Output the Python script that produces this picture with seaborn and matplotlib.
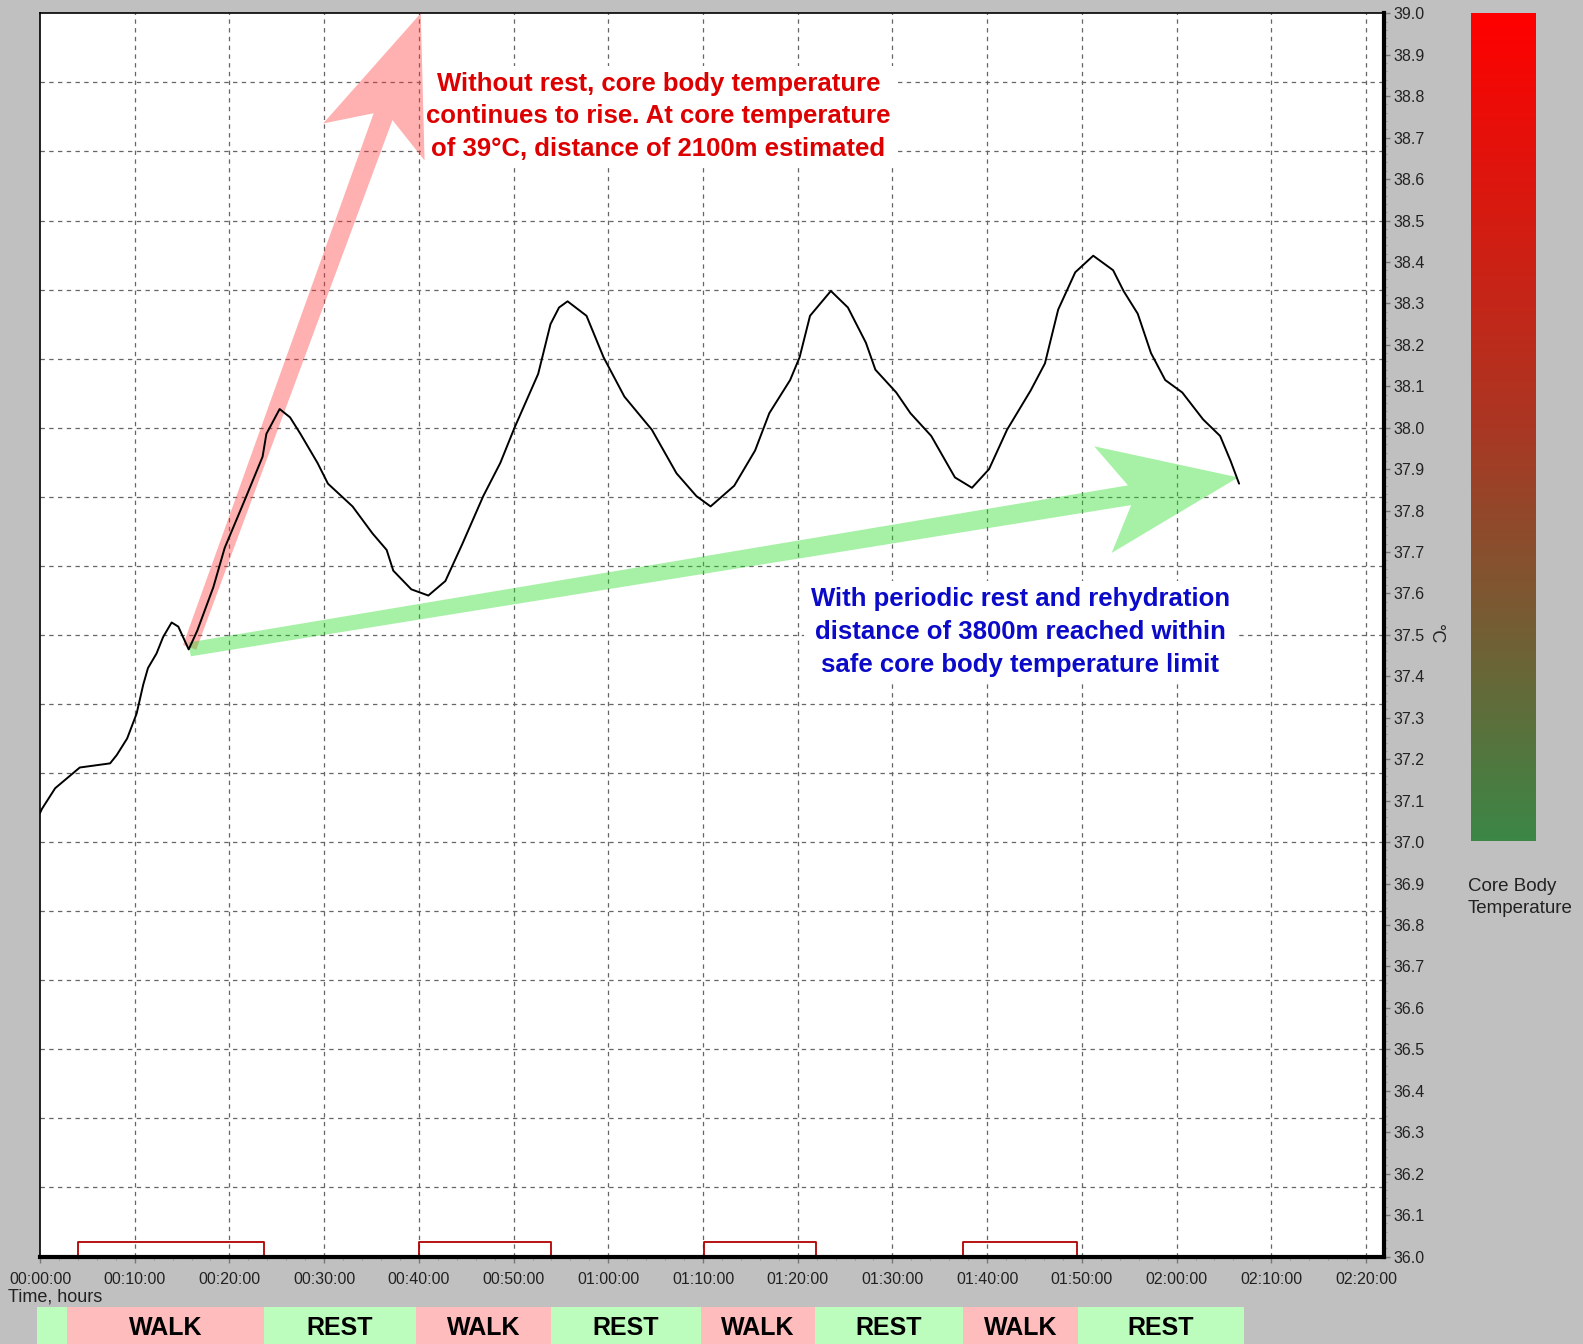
import numpy as np
import pandas as pd
import matplotlib
matplotlib.use("Agg")
import matplotlib.pyplot as plt
import seaborn as sns
from matplotlib import font_manager
from matplotlib.colors import LinearSegmentedColormap
from matplotlib.patches import Polygon
from matplotlib.ticker import MultipleLocator, FuncFormatter

# ---- core body temperature trace (elapsed minutes, degC) ----
minutes = [0.0, 0.2, 1.6, 4.2, 7.4, 8.1, 9.2, 10.2, 10.9, 11.4, 12.3, 13.0, 13.9,
           14.6, 15.7, 16.6, 18.3, 19.5, 21.7, 23.5, 23.9, 25.3, 26.4, 27.5, 29.3,
           30.4, 33.0, 35.1, 36.6, 37.3, 39.2, 41.0, 42.8, 44.6, 46.8, 48.6, 50.1,
           52.6, 53.9, 54.8, 55.7, 57.7, 59.5, 61.7, 64.6, 67.2, 69.3, 70.8, 73.3,
           75.5, 77.0, 79.2, 80.2, 81.3, 82.4, 83.5, 85.3, 87.2, 88.2, 90.4, 91.9,
           94.1, 96.6, 98.4, 100.2, 102.1, 104.6, 106.1, 107.5, 109.3, 111.2, 113.3,
           114.4, 115.9, 117.3, 118.8, 120.6, 122.8, 124.6, 125.7, 126.6]
core_temp = [37.07, 37.08, 37.13, 37.18, 37.19, 37.21, 37.25, 37.31, 37.38, 37.42,
             37.455, 37.495, 37.53, 37.52, 37.465, 37.51, 37.615, 37.71, 37.83,
             37.93, 37.985, 38.045, 38.025, 37.985, 37.915, 37.865, 37.81, 37.745,
             37.705, 37.655, 37.61, 37.595, 37.63, 37.72, 37.835, 37.915, 38.0,
             38.13, 38.25, 38.29, 38.305, 38.27, 38.17, 38.075, 37.995, 37.89,
             37.835, 37.81, 37.86, 37.945, 38.035, 38.115, 38.17, 38.27, 38.30,
             38.33, 38.29, 38.205, 38.14, 38.085, 38.035, 37.98, 37.88, 37.855,
             37.9, 37.995, 38.09, 38.155, 38.285, 38.375, 38.415, 38.38, 38.33,
             38.275, 38.18, 38.115, 38.085, 38.02, 37.98, 37.92, 37.865]
assert len(minutes) == len(core_temp)

# ---- walking activity trace ----
walk_on = [3.97, 40.06, 70.1, 97.4]
walk_off = [23.6, 54.0, 81.9, 109.5]
walk_level = 36.035

# ---- WALK / REST schedule strip ----
phase_edges = [-0.3, 2.9, 23.6, 39.7, 53.9, 69.8, 81.8, 97.4, 109.6, 127.1]
phase_kind = ["rest", "walk", "rest", "walk", "rest", "walk", "rest", "walk", "rest"]
phase_text = ["", "WALK", "REST", "WALK", "REST", "WALK", "REST", "WALK", "REST"]

# ---- trend arrows: (minutes, degC) start and tip ----
no_rest_start, no_rest_tip = (15.8, 37.47), (40.2, 39.0)
rest_start, rest_tip = (15.8, 37.465), (126.5, 37.88)

t_max = 141.9
y_min, y_max = 36.0, 39.0


def pick(*names):
    for n in names:
        try:
            font_manager.findfont(font_manager.FontProperties(family=n),
                                  fallback_to_default=False)
            return n
        except ValueError:
            pass
    return "DejaVu Sans"


NARROW = pick("Liberation Sans Narrow", "Liberation Sans")
BOLD = pick("Liberation Sans", "DejaVu Sans")
TICK_SIZE = 13 if NARROW == "Liberation Sans Narrow" else 11.5

sns.set_style("white")
plt.rcParams["font.family"] = [NARROW, "DejaVu Sans"]

W, H = 1583, 1344
fig = plt.figure(figsize=(W / 100, H / 100), dpi=100, facecolor="#c0c0c0")


def px_rect(x0, y0, x1, y1):
    return [x0 / W, 1 - y1 / H, (x1 - x0) / W, (y1 - y0) / H]


ax = fig.add_axes(px_rect(40, 13.3, 1384, 1256.5))
ax.set_facecolor("white")
ax.set_xlim(0, t_max)
ax.set_ylim(y_min, y_max)

# dashed grid: every 10 minutes, every 1/6 degC
for gx in np.arange(10, t_max, 10):
    ax.axvline(gx, color="#666666", lw=0.9, ls=(0, (3.5, 3.5)), zorder=1)
for gy in np.arange(y_min + 1 / 6, y_max - 0.01, 1 / 6):
    ax.axhline(gy, color="#666666", lw=0.9, ls=(0, (3.5, 3.5)), zorder=1)


def notched_arrow(start, tip, color, alpha, shaft=20, head=108, length=137, notch=110):
    tr = ax.transData
    p0 = tr.transform(start)
    p1 = tr.transform(tip)
    d = p1 - p0
    u = d / np.hypot(*d)
    n = np.array([-u[1], u[0]])
    hs, hh = shaft / 2, head / 2
    pts = [p0 + n * hs * 0.7,
           p1 - u * notch + n * hs,
           p1 - u * length + n * hh,
           p1,
           p1 - u * length - n * hh,
           p1 - u * notch - n * hs,
           p0 - n * hs * 0.7]
    poly = Polygon(tr.inverted().transform(np.array(pts)), closed=True,
                   facecolor=color, alpha=alpha, edgecolor="none",
                   zorder=3, clip_on=False)
    ax.add_patch(poly)


notched_arrow(no_rest_start, no_rest_tip, "#ff3030", 0.38)
notched_arrow(rest_start, rest_tip, "#22dd22", 0.40)

# activity steps
for on, off in zip(walk_on, walk_off):
    ax.plot([on, on, off, off], [y_min, walk_level, walk_level, y_min],
            color="#b00000", lw=1.3, zorder=2)

# temperature curve
df = pd.DataFrame({"minutes": minutes, "temp": core_temp})
sns.lineplot(data=df, x="minutes", y="temp", ax=ax, color="black", lw=1.4,
             estimator=None, sort=False, zorder=5)
ax.set_xlabel("")
ax.set_ylabel("")

# annotations
ax.text(65.3, 38.752,
        "Without rest, core body temperature\ncontinues to rise. At core temperature\n"
        "of 39°C, distance of 2100m estimated",
        ha="center", va="center", multialignment="center", fontsize=18.5,
        fontweight="bold", family=[BOLD, "DejaVu Sans"], color="#dd0000",
        linespacing=1.45, zorder=2.8,
        bbox=dict(boxstyle="square,pad=0.2", facecolor="white", edgecolor="none"))
ax.text(103.5, 37.507,
        "With periodic rest and rehydration\ndistance of 3800m reached within\n"
        "safe core body temperature limit",
        ha="center", va="center", multialignment="center", fontsize=18.5,
        fontweight="bold", family=[BOLD, "DejaVu Sans"], color="#0a0ac8",
        linespacing=1.45, zorder=2.8,
        bbox=dict(boxstyle="square,pad=0.25", facecolor="white", edgecolor="none"))

# axes, ticks
ax.yaxis.tick_right()
ax.yaxis.set_label_position("right")
ax.yaxis.set_major_locator(MultipleLocator(0.1))
ax.yaxis.set_minor_locator(MultipleLocator(0.02))
ax.yaxis.set_major_formatter(FuncFormatter(lambda v, p: f"{v:.1f}"))
ax.xaxis.set_major_locator(MultipleLocator(10))
ax.xaxis.set_minor_locator(MultipleLocator(2))
ax.xaxis.set_major_formatter(
    FuncFormatter(lambda v, p: f"{int(round(v)) // 60:02d}:{int(round(v)) % 60:02d}:00"))
ax.tick_params(which="major", length=4, width=1, color="#777777",
               labelsize=TICK_SIZE, labelcolor="#222222", pad=3,
               bottom=True, right=True, left=False, top=False)
ax.tick_params(axis="x", which="major", pad=7)
ax.tick_params(which="minor", length=2.5, width=0.8, color="#999999",
               bottom=True, right=True, left=False, top=False)

for side, lw in (("right", 3), ("bottom", 3), ("top", 1.2), ("left", 1.2)):
    ax.spines[side].set_visible(True)
    ax.spines[side].set_color("black")
    ax.spines[side].set_linewidth(lw)

fig.text(1435 / W, 1 - 634 / H, "°C", rotation=270, ha="center", va="center",
         fontsize=13, color="#222222")
fig.text(8 / W, 1 - 1297 / H, "Time, hours", ha="left", va="center",
         fontsize=13, color="#222222")

# colour scale bar
cmap = LinearSegmentedColormap.from_list(
    "core", [(0.0, "#3c8746"), (0.5, "#aa3723"), (1.0, "#ff0000")])
cax = fig.add_axes(px_rect(1471, 13.3, 1536, 841))
cax.imshow(np.linspace(0, 1, 256).reshape(-1, 1), aspect="auto", cmap=cmap,
           origin="lower", extent=[0, 1, 37.0, 39.0])
cax.set_axis_off()
fig.text(1468 / W, 1 - 878 / H, "Core Body\nTemperature", ha="left", va="top",
         fontsize=13.5, color="#222222", linespacing=1.4)

# WALK / REST strip
bax = fig.add_axes(px_rect(40, 1307, 1384, 1344))
bax.set_xlim(0, t_max)
bax.set_ylim(0, 1)
bax.set_axis_off()
strip_colors = {"walk": "#ffbcbc", "rest": "#bcfcbc"}
for a, b, kind, label in zip(phase_edges[:-1], phase_edges[1:], phase_kind, phase_text):
    span = bax.axvspan(a, b, ymin=0, ymax=1, color=strip_colors[kind], lw=0)
    span.set_clip_on(False)
    if label:
        bax.text((a + b) / 2, 0.42, label, ha="center", va="center",
                 fontsize=18, fontweight="bold", color="black",
                 family=[NARROW, "DejaVu Sans"])

fig.savefig("out.png", dpi=100, facecolor=fig.get_facecolor())
